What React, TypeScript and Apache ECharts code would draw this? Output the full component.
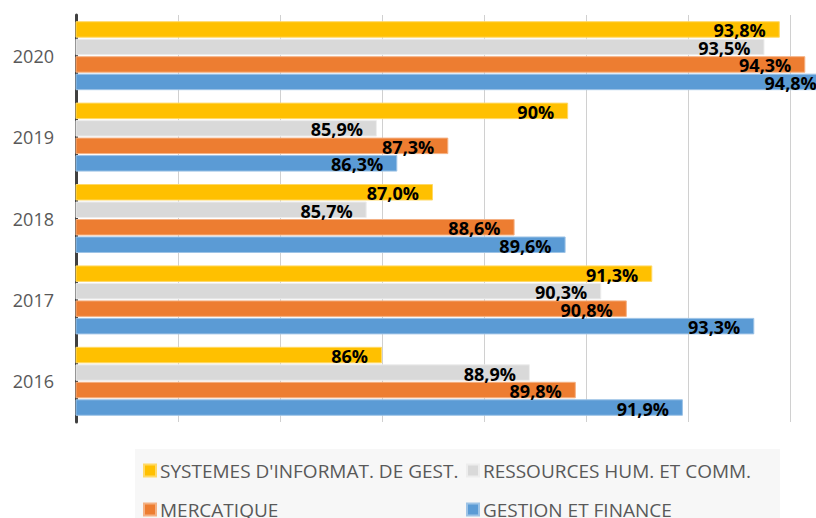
import React, { useEffect, useRef } from "react";
import * as echarts from "echarts";

const categories = ["2016", "2017", "2018", "2019", "2020"];

const seriesNames = [
  "SYSTEMES D'INFORMAT. DE GEST.",
  "RESSOURCES HUM. ET COMM.",
  "MERCATIQUE",
  "GESTION ET FINANCE",
];

const systemes = [86.0, 91.3, 87.0, 89.65, 93.8];
const systemesLabels = ["86%", "91,3%", "87,0%", "90%", "93,8%"];

const ressources = [88.9, 90.3, 85.7, 85.9, 93.5];
const ressourcesLabels = ["88,9%", "90,3%", "85,7%", "85,9%", "93,5%"];

const mercatique = [89.8, 90.8, 88.6, 87.3, 94.3];
const mercatiqueLabels = ["89,8%", "90,8%", "88,6%", "87,3%", "94,3%"];

const gestion = [91.9, 93.3, 89.6, 86.3, 94.8];
const gestionLabels = ["91,9%", "93,3%", "89,6%", "86,3%", "94,8%"];

const colors = ["#FFC000", "#D9D9D9", "#ED7D31", "#5B9BD5"];
const borderColors = ["#FFD966", "#EDEDED", "#F4B183", "#9DC3E6"];

export default function App() {
  const ref = useRef<HTMLDivElement>(null);

  useEffect(() => {
    if (!ref.current) return;
    const chart = echarts.init(ref.current, undefined, { renderer: "svg" });
    const values = [systemes, ressources, mercatique, gestion];
    const labels = [systemesLabels, ressourcesLabels, mercatiqueLabels, gestionLabels];

    const legendPos = [
      { left: 143, top: 461 },
      { left: 466, top: 461 },
      { left: 143, top: 500 },
      { left: 466, top: 500 },
    ];

    chart.setOption({
      animation: false,
      color: colors,
      grid: {
        left: 76,
        top: 15,
        width: 816,
        height: 407,
        containLabel: false,
        outerBoundsMode: "none",
      },
      xAxis: {
        type: "value",
        min: 80,
        max: 96,
        interval: 2,
        axisLabel: { show: false },
        axisLine: { show: false },
        axisTick: { show: false },
        splitLine: { show: true, lineStyle: { color: "#D0D0D0", width: 1 } },
      },
      yAxis: {
        type: "category",
        data: categories,
        axisTick: { show: false },
        axisLine: { show: true, lineStyle: { color: "#404040", width: 3 } },
        axisLabel: {
          color: "#595959",
          fontSize: 18,
          fontFamily: "Open Sans",
          margin: 22,
        },
      },
      graphic: [
        {
          type: "rect",
          z: -10,
          shape: { x: 135, y: 449, width: 645, height: 80 },
          style: { fill: "#F7F7F7" },
        },
      ],
      legend: seriesNames.map((n, i) => ({
        data: [n],
        left: legendPos[i].left,
        top: legendPos[i].top,
        icon: "rect",
        itemWidth: 12,
        itemHeight: 12,
        itemGap: 0,
        padding: 0,
        textStyle: {
          color: "#595959",
          fontSize: 19,
          fontFamily: "Open Sans",
          padding: [0, 0, 0, -1],
        },
      })),
      series: seriesNames.map((n, i) => ({
        name: n,
        type: "bar",
        data: values[i],
        barWidth: 16.5,
        barGap: "6%",
        itemStyle: { color: colors[i], borderColor: borderColors[i], borderWidth: 1 },
        label: {
          show: true,
          position: "insideRight",
          distance: 14,
          offset: [0, 1],
          color: "#000000",
          fontWeight: "bold",
          fontSize: 18,
          fontFamily: "Open Sans",
          formatter: (p: any) => labels[i][p.dataIndex],
        },
      })),
    });

    return () => chart.dispose();
  }, []);

  return (
    <div
      ref={ref}
      style={{ position: "absolute", left: 0, top: 0, width: 816, height: 518 }}
    />
  );
}
